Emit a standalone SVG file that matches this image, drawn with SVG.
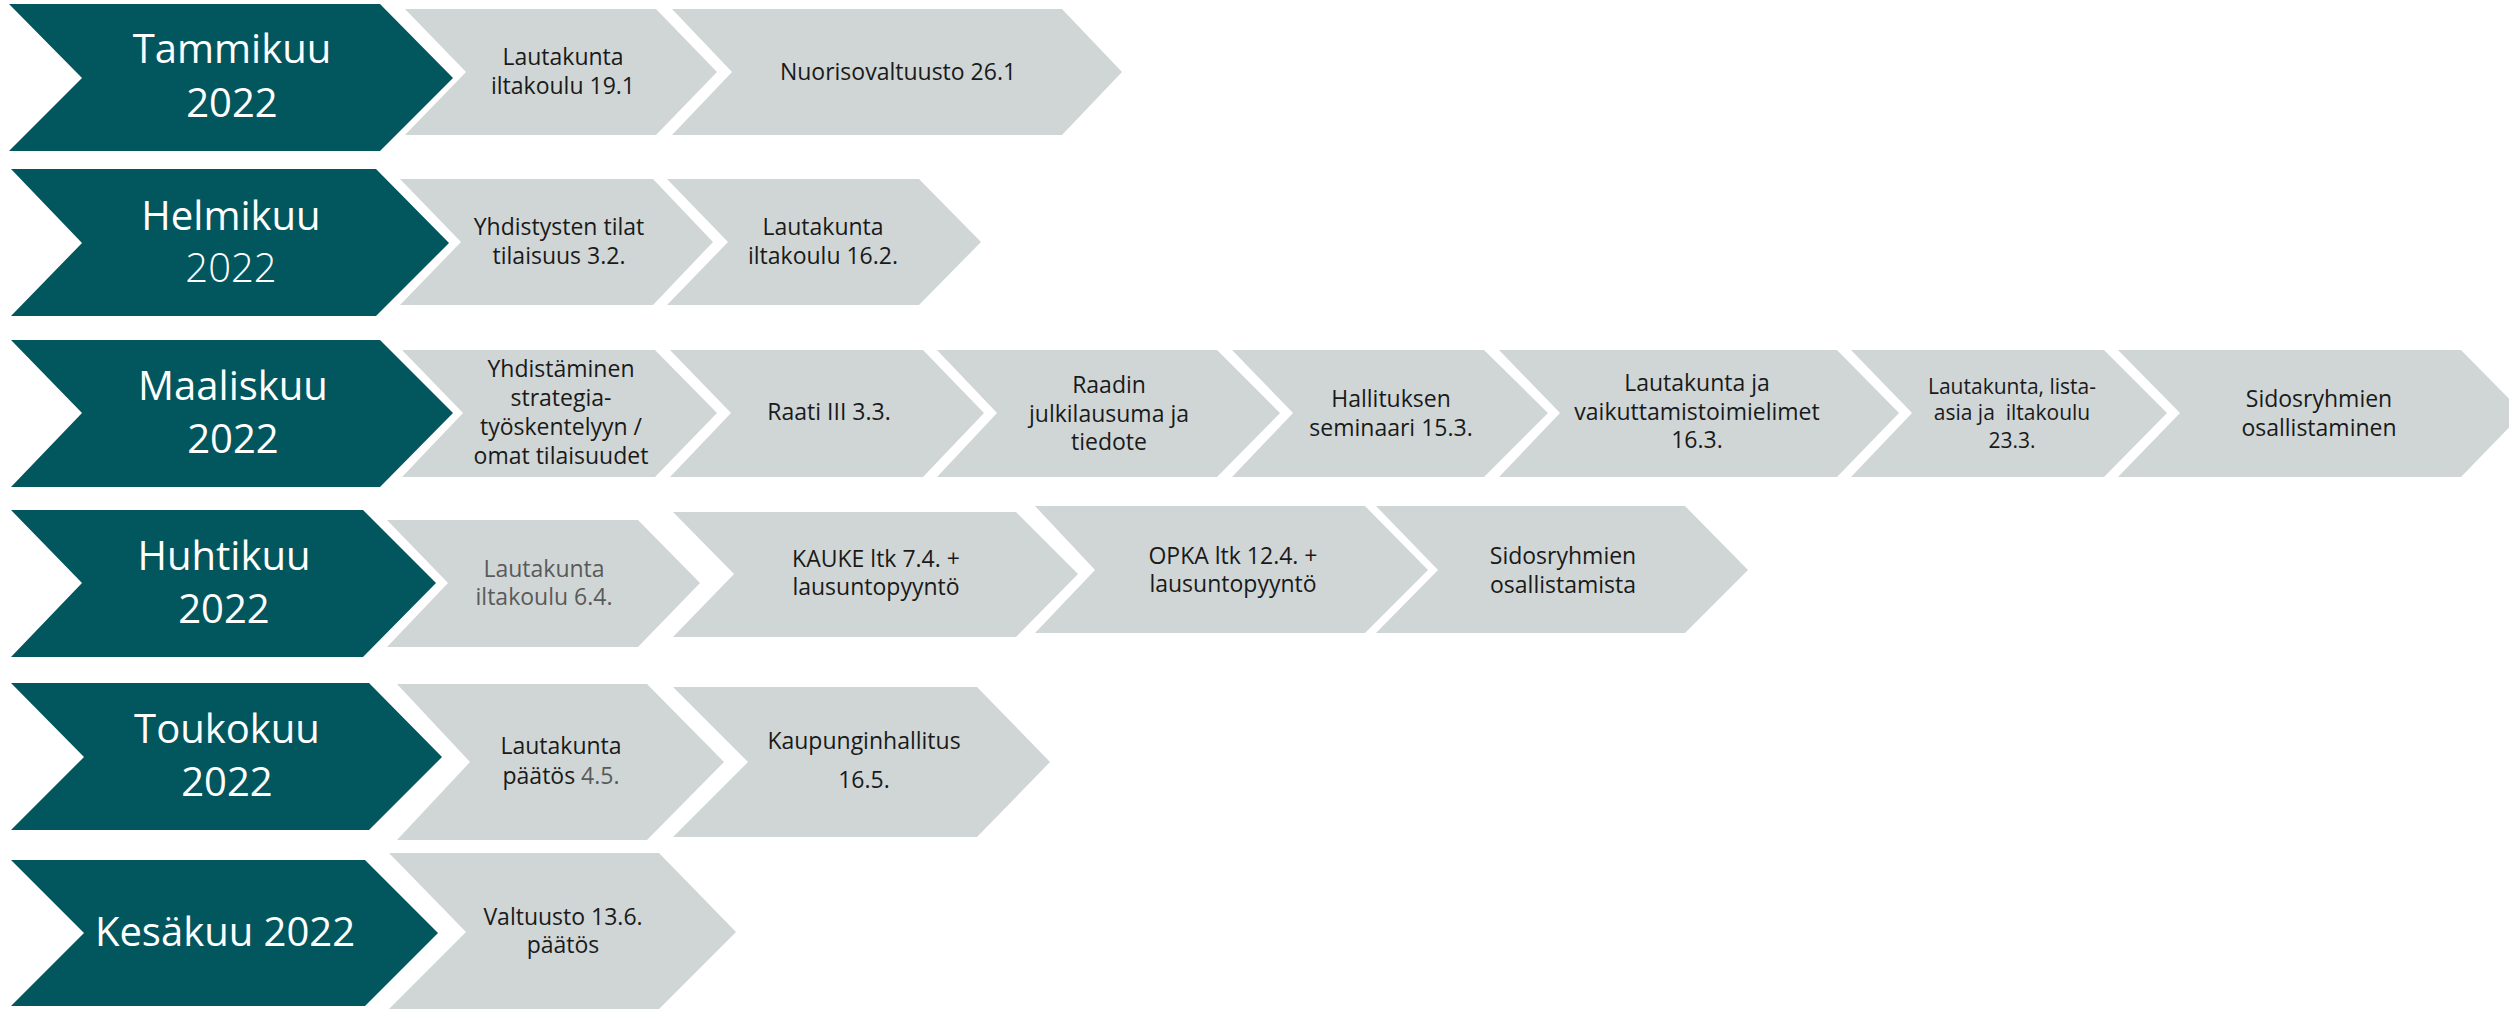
<svg xmlns="http://www.w3.org/2000/svg" width="2509" height="1010" viewBox="0 0 2509 1010">
<style>
.m{fill:#02565E}
.s{fill:#D0D6D6}
.mt{font-family:"Open Sans","Liberation Sans",sans-serif;font-size:40px;fill:#FFFFFF;text-anchor:middle}
.st{font-family:"Open Sans","Liberation Sans",sans-serif;font-size:23px;fill:#1A1A1A;text-anchor:middle}
.lt{fill:#5A5A5A}
.sm{font-size:21px}
.thin{font-weight:300}
</style>
<rect width="2509" height="1010" fill="#FFFFFF"/>
<g id="connectors"/>

<!-- Row 1 -->
<g id="tammikuu">
<polygon class="m" points="9,4 380,4 453,78 380,151 9,151 82,78"/>
<text class="mt" x="232" y="63">Tammikuu</text>
<text class="mt" x="232" y="117">2022</text>
</g>
<g id="tam-1">
<polygon class="s" points="405,9 656,9 717,72 656,135 405,135 466,72"/>
<text class="st" x="563" y="65">Lautakunta</text>
<text class="st" x="563" y="94">iltakoulu 19.1</text>
</g>
<g id="tam-2">
<polygon class="s" points="672,9 1062,9 1122,72 1062,135 672,135 732,72"/>
<text class="st" x="898" y="80">Nuorisovaltuusto 26.1</text>
</g>

<!-- Row 2 -->
<g id="helmikuu">
<polygon class="m" points="11,169 376,169 449,243 376,316 11,316 82,243"/>
<text class="mt" x="231" y="230">Helmikuu</text>
<text class="mt thin" x="231" y="282">2022</text>
</g>
<g id="hel-1">
<polygon class="s" points="400,179 653,179 713,242 653,305 400,305 461,242"/>
<text class="st" x="559" y="235">Yhdistysten tilat</text>
<text class="st" x="559" y="264">tilaisuus 3.2.</text>
</g>
<g id="hel-2">
<polygon class="s" points="667,179 919,179 981,242 919,305 667,305 728,242"/>
<text class="st" x="823" y="235">Lautakunta</text>
<text class="st" x="823" y="264">iltakoulu 16.2.</text>
</g>

<!-- Row 3 -->
<g id="maaliskuu">
<polygon class="m" points="11,340 380,340 453,413 380,487 11,487 82,413"/>
<text class="mt" x="233" y="400">Maaliskuu</text>
<text class="mt" x="233" y="453">2022</text>
</g>
<g id="maa-1">
<polygon class="s" points="402,350 655,350 717,413 655,477 402,477 463,413"/>
<text class="st" x="561" y="377">Yhdistäminen</text>
<text class="st" x="561" y="406">strategia-</text>
<text class="st" x="561" y="435">työskentelyyn /</text>
<text class="st" x="561" y="464">omat tilaisuudet</text>
</g>
<g id="maa-2">
<polygon class="s" points="670,350 923,350 984,413 923,477 670,477 731,413"/>
<text class="st" x="829" y="420">Raati III 3.3.</text>
</g>
<g id="maa-3">
<polygon class="s" points="937,350 1217,350 1280,413 1217,477 937,477 997,413"/>
<text class="st" x="1109" y="393">Raadin</text>
<text class="st" x="1109" y="422">julkilausuma ja</text>
<text class="st" x="1109" y="450">tiedote</text>
</g>
<g id="maa-4">
<polygon class="s" points="1232,350 1484,350 1548,413 1484,477 1232,477 1293,413"/>
<text class="st" x="1391" y="407">Hallituksen</text>
<text class="st" x="1391" y="436">seminaari 15.3.</text>
</g>
<g id="maa-5">
<polygon class="s" points="1499,350 1837,350 1899,413 1837,477 1499,477 1560,413"/>
<text class="st" x="1697" y="391">Lautakunta ja</text>
<text class="st" x="1697" y="420">vaikuttamistoimielimet</text>
<text class="st" x="1697" y="448">16.3.</text>
</g>
<g id="maa-6">
<polygon class="s" points="1851,350 2104,350 2167,413 2104,477 1851,477 1912,413"/>
<text class="st sm" x="2012" y="394">Lautakunta, lista-</text>
<text class="st sm" x="2012" y="420" xml:space="preserve">asia ja  iltakoulu</text>
<text class="st sm" x="2012" y="448">23.3.</text>
</g>
<g id="maa-7">
<polygon class="s" points="2118,350 2461,350 2523,413 2461,477 2118,477 2180,413"/>
<text class="st" x="2319" y="407">Sidosryhmien</text>
<text class="st" x="2319" y="436">osallistaminen</text>
</g>

<!-- Row 4 -->
<g id="huhtikuu">
<polygon class="m" points="11,510 363,510 436,583 363,657 11,657 82,583"/>
<text class="mt" x="224" y="570">Huhtikuu</text>
<text class="mt" x="224" y="623">2022</text>
</g>
<g id="huh-1">
<polygon class="s" points="387,520 638,520 700,583 638,647 387,647 448,583"/>
<text class="st lt" x="544" y="577">Lautakunta</text>
<text class="st lt" x="544" y="605">iltakoulu 6.4.</text>
</g>
<g id="huh-2">
<polygon class="s" points="673,512 1016,512 1078,574 1016,637 673,637 734,574"/>
<text class="st" x="876" y="567">KAUKE ltk 7.4. +</text>
<text class="st" x="876" y="595">lausuntopyyntö</text>
</g>
<g id="huh-3">
<polygon class="s" points="1035,506 1365,506 1428,570 1365,633 1035,633 1095,570"/>
<text class="st" x="1233" y="564">OPKA ltk 12.4. +</text>
<text class="st" x="1233" y="592">lausuntopyyntö</text>
</g>
<g id="huh-4">
<polygon class="s" points="1376,506 1685,506 1748,570 1685,633 1376,633 1438,570"/>
<text class="st" x="1563" y="564">Sidosryhmien</text>
<text class="st" x="1563" y="593">osallistamista</text>
</g>

<!-- Row 5 -->
<g id="toukokuu">
<polygon class="m" points="11,683 369,683 442,757 369,830 11,830 84,757"/>
<text class="mt" x="227" y="743">Toukokuu</text>
<text class="mt" x="227" y="796">2022</text>
</g>
<g id="tou-1">
<polygon class="s" points="397,684 647,684 724,762 647,840 397,840 470,762"/>
<text class="st" x="561" y="754">Lautakunta</text>
<text class="st" x="561" y="784">päätös <tspan class="lt">4.5.</tspan></text>
</g>
<g id="tou-2">
<polygon class="s" points="673,687 977,687 1050,762 977,837 673,837 748,762"/>
<text class="st" x="864" y="749">Kaupunginhallitus</text>
<text class="st" x="864" y="788">16.5.</text>
</g>

<!-- Row 6 -->
<g id="kesakuu">
<polygon class="m" points="11,860 365,860 438,933 365,1006 11,1006 84,933"/>
<text class="mt" x="225" y="946">Kesäkuu 2022</text>
</g>
<g id="kes-1">
<polygon class="s" points="389,853 659,853 736,932 659,1009 389,1009 466,932"/>
<text class="st" x="563" y="925">Valtuusto 13.6.</text>
<text class="st" x="563" y="953">päätös</text>
</g>
</svg>
